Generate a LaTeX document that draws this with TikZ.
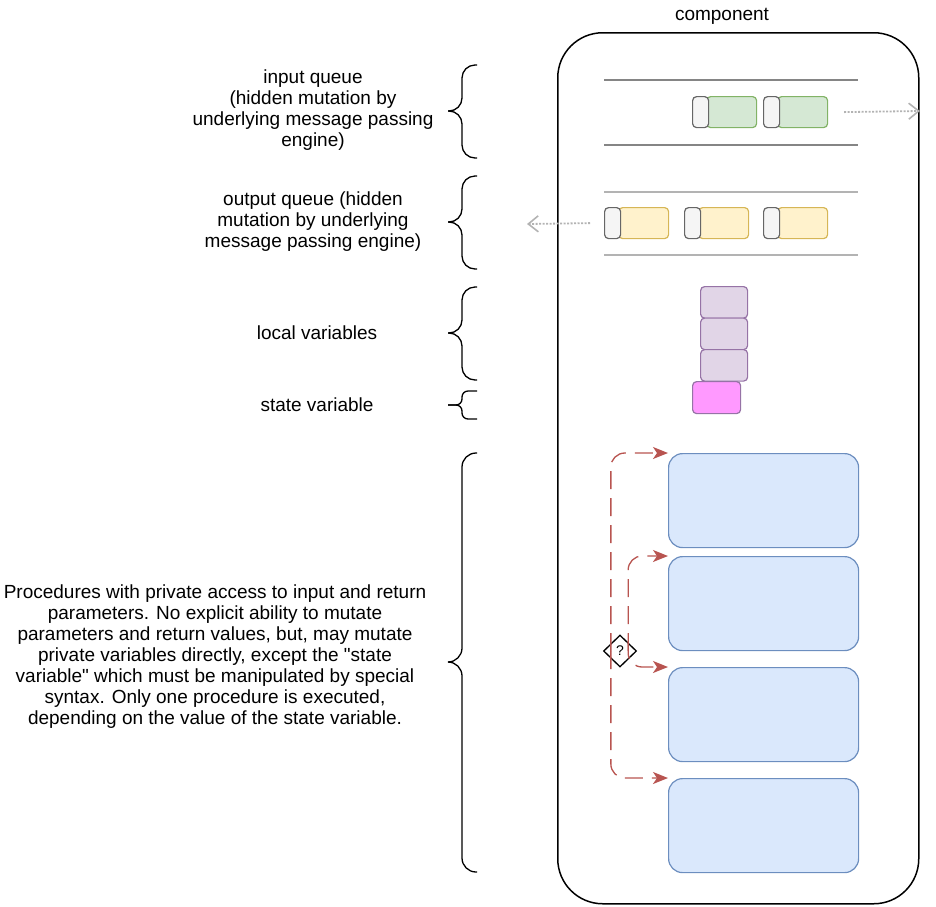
\documentclass[tikz,border=0pt]{standalone}
\usepackage{fontspec}
\setmainfont{Liberation Sans}
\usetikzlibrary{arrows.meta,shapes.geometric,calc}
\definecolor{grnF}{HTML}{D5E8D4}\definecolor{grnS}{HTML}{82B366}
\definecolor{ylwF}{HTML}{FFF2CC}\definecolor{ylwS}{HTML}{D6B656}
\definecolor{gryF}{HTML}{F5F5F5}\definecolor{gryS}{HTML}{666666}
\definecolor{purF}{HTML}{E1D5E7}\definecolor{purS}{HTML}{9673A6}
\definecolor{pinkF}{HTML}{FF99FF}
\definecolor{bluF}{HTML}{DAE8FC}\definecolor{bluS}{HTML}{6C8EBF}
\definecolor{redS}{HTML}{B85450}
\definecolor{lineG}{HTML}{B3B3B3}
\begin{document}
\begin{tikzpicture}[x=1pt,y=-1pt,
  every node/.style={font=\fontsize{19}{21}\selectfont},
  lbl/.style={align=center,inner sep=0},
  box/.style={draw,line width=1.2pt,rounded corners=4,anchor=north west,inner sep=0,minimum height=31},
  hdr/.style={box,fill=gryF,draw=gryS,minimum width=16},
  grnbox/.style={box,fill=grnF,draw=grnS,minimum width=50},
  ylwbox/.style={box,fill=ylwF,draw=ylwS,minimum width=50},
  varbox/.style={box,fill=purF,draw=purS,minimum width=47,minimum height=31.5},
  statebox/.style={box,fill=pinkF,draw=purS,minimum width=48,minimum height=32},
  procbox/.style={draw=bluS,fill=bluF,line width=1.2pt,rounded corners=14,anchor=north west,inner sep=0,minimum width=190,minimum height=94},
  qline/.style={line width=1.5pt,draw=gryS!80},
  qline2/.style={line width=2pt,draw=lineG},
  dotarrow/.style={draw=lineG,line width=1.8pt,dash pattern=on 2pt off 1.5pt,-{Straight Barb[length=10pt,width=16pt,line width=1.6pt]}},
  redarrow/.style={draw=redS,line width=1.3pt,dash pattern=on 18pt off 9pt,rounded corners=14,-{Stealth[length=15pt,width=12pt,inset=4pt]}},
  brace/.style={draw=black,line width=1.3pt},
]
\useasboundingbox (0,0) rectangle (936,906);
% container
\node[draw,line width=1.5pt,rounded corners=45,anchor=north west,minimum width=361,minimum height=871,inner sep=0] (comp) at (557,32) {};
\node[lbl] (complbl) at (722,16) {component};
% input queue
\draw[qline] (604,80) -- (858,80);
\draw[qline] (604,145) -- (858,145);
\node[grnbox] (i1b) at (706,96) {};
\node[hdr] (i1h) at (692,96) {};
\node[grnbox] (i2b) at (777,96) {};
\node[hdr] (i2h) at (763,96) {};
\coordinate (inend) at (920,111);
\draw[dotarrow] ($(i2b.east)+(16,0)$) -- (inend);
% output queue
\draw[qline2] (604,192) -- (858,192);
\draw[qline2] (604,255) -- (858,255);
\node[ylwbox] (o1b) at (618,207) {};
\node[hdr] (o1h) at (604,207) {};
\node[ylwbox] (o2b) at (698,207) {};
\node[hdr] (o2h) at (684,207) {};
\node[ylwbox] (o3b) at (777,207) {};
\node[hdr] (o3h) at (763,207) {};
\coordinate (outend) at (527,224);
\draw[dotarrow] ($(o1h.west)+(-14,0)$) -- (outend);
% local variables
\node[varbox] (v1) at (700,286) {};
\node[varbox] (v2) at (700,317.5) {};
\node[varbox] (v3) at (700,349) {};
\node[statebox] (sv) at (692,381) {};
% procedures
\node[procbox] (p1) at (668,453) {};
\node[procbox] (p2) at (668,556) {};
\node[procbox] (p3) at (668,667) {};
\node[procbox] (p4) at (668,778) {};
\node[diamond,draw,fill=white,line width=1.3pt,minimum width=33,minimum height=32,inner sep=0,font=\fontsize{14}{14}\selectfont] (dq) at (620,651) {?};
\draw[redarrow] ($(dq.west)+(8,0)$) |- (p1.north west);
\draw[redarrow] ($(dq.west)+(8,0)$) |- (p4.north west);
\draw[redarrow] ($(dq.east)+(-9,0)$) |- (p2.north west);
\draw[redarrow] ($(dq.east)+(-9,-10)$) |- (p3.north west);
% braces
\draw[brace,rounded corners=13] (477,65) -- (462,65) -- (462,111) -- (448,111);
\draw[brace,rounded corners=13] (448,111) -- (462,111) -- (462,158) -- (477,158);
\draw[brace,rounded corners=13] (477,176) -- (462,176) -- (462,222) -- (448,222);
\draw[brace,rounded corners=13] (448,222) -- (462,222) -- (462,269) -- (477,269);
\draw[brace,rounded corners=13] (477,287) -- (462,287) -- (462,333) -- (448,333);
\draw[brace,rounded corners=13] (448,333) -- (462,333) -- (462,380) -- (477,380);
\draw[brace,rounded corners=6] (477,391) -- (462,391) -- (462,405) -- (448,405);
\draw[brace,rounded corners=6] (448,405) -- (462,405) -- (462,419) -- (477,419);
\draw[brace,rounded corners=14] (477,453) -- (462,453) -- (462,662) -- (448,662);
\draw[brace,rounded corners=14] (448,662) -- (462,662) -- (462,872) -- (477,872);
% labels
\node[lbl] (tin) at (313,110) {input queue\\(hidden mutation by\\underlying message passing\\engine)};
\node[lbl] (tout) at (313,222) {output queue (hidden\\mutation by underlying\\message passing engine)};
\node[lbl] (tloc) at (317,333) {local variables};
\node[lbl] (tst) at (317,405) {state variable};
\node[lbl] (tproc) at (215,657) {Procedures with private access to input and return\\parameters. No explicit ability to mutate\\parameters and return values, but, may mutate\\private variables directly, except the \textquotedbl state\\variable\textquotedbl{} which must be manipulated by special\\syntax. Only one procedure is executed,\\depending on the value of the state variable.};
\end{tikzpicture}
\end{document}
